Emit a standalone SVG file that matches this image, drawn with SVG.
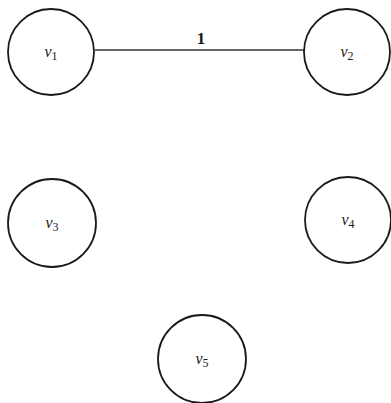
<svg xmlns="http://www.w3.org/2000/svg" width="391" height="403" viewBox="0 0 391 403">
<style>
.node circle{fill:#fff;stroke:#1a1a1a;stroke-width:1.8}
.lbl{font-family:"Liberation Serif",serif;font-style:italic;font-size:16px;fill:#1a1a1a;text-anchor:middle}
.sub{font-size:12px;font-style:normal}
.edge{stroke:#333;stroke-width:1.4;fill:none}
.elbl{font-family:"Liberation Serif",serif;font-size:17px;font-weight:bold;fill:#1a1a1a;text-anchor:middle}
</style>
<rect width="391" height="403" fill="#fff"/>
<g id="connectors">
<line class="edge" x1="95" y1="50" x2="304" y2="50"/>
<text class="elbl" x="201" y="44">1</text>
</g>
<g id="v1" class="node"><circle cx="51" cy="52" r="43"/><text class="lbl" x="51" y="57">v<tspan class="sub" dy="3">1</tspan></text></g>
<g id="v2" class="node"><circle cx="347" cy="52" r="43"/><text class="lbl" x="347" y="57">v<tspan class="sub" dy="3">2</tspan></text></g>
<g id="v3" class="node"><circle cx="52" cy="223" r="44"/><text class="lbl" x="52" y="228">v<tspan class="sub" dy="3">3</tspan></text></g>
<g id="v4" class="node"><circle cx="348" cy="220" r="43"/><text class="lbl" x="348" y="225">v<tspan class="sub" dy="3">4</tspan></text></g>
<g id="v5" class="node"><circle cx="202" cy="359" r="44"/><text class="lbl" x="202" y="364">v<tspan class="sub" dy="3">5</tspan></text></g>
</svg>
